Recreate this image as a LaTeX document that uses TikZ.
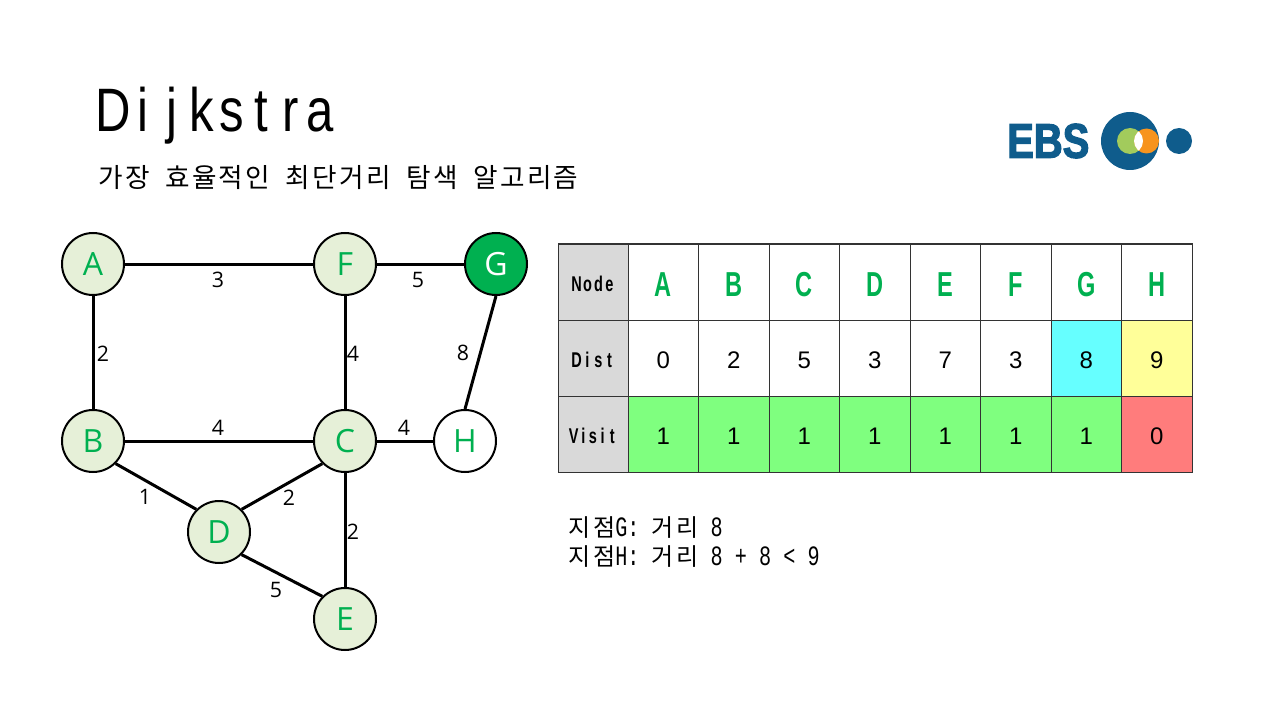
\documentclass[tikz,border=0pt]{standalone}
\usepackage{fontspec}
\setmainfont{Liberation Sans}
\newfontfamily\cjkfont[LetterSpace=8.5,WordSpace=1.9]{Noto Sans CJK KR}
\newfontfamily\notecjk[LetterSpace=12]{Noto Sans CJK KR}
\newfontfamily\titlefont[FakeStretch=0.8]{Liberation Sans}
\newfontfamily\headfont[FakeStretch=0.68]{Liberation Sans}
\newfontfamily\logofont[FakeStretch=0.82,FakeBold=2.5]{Liberation Sans}
\newfontfamily\notemono[FakeStretch=0.72]{Liberation Mono}
\newfontfamily\graphfont{Open Sans}
\newlength\gridpitch
\def\gridloop#1{\ifx#1\relax\else\makebox[\gridpitch][c]{#1}\expandafter\gridloop\fi}
\newcommand\gridtext[2]{\setlength\gridpitch{#1}\gridloop#2\relax}
\newcommand\latn[1]{{\fontsize{21}{21}\selectfont\notemono #1}}
\definecolor{ptgreen}{HTML}{00B050}
\definecolor{ptpale}{HTML}{E6F0D8}
\definecolor{ebsblue}{HTML}{0F5C8C}
\definecolor{ebsgreen}{HTML}{A2CB5C}
\definecolor{ebsorange}{HTML}{F7941E}
\definecolor{vgreen}{HTML}{7FFF7F}
\definecolor{vred}{HTML}{FF7C7C}
\definecolor{dcyan}{HTML}{66FFFF}
\definecolor{dyellow}{HTML}{FFFF99}
\tikzset{
  vert/.style={circle, draw=black, line width=1.5pt, fill=ptpale, text=ptgreen, minimum size=46.5pt, inner sep=0pt, font=\fontsize{24}{24}\selectfont\graphfont},
  edge/.style={line width=2.25pt},
  wt/.style={inner sep=0pt, font=\fontsize{16}{16}\selectfont\graphfont},
  cell/.style={draw=black!80, line width=0.75pt},
  rowhead/.style={yshift=-1.5pt, font=\fontsize{16}{16}\selectfont\bfseries\headfont},
  numcell/.style={yshift=-1.5pt, inner sep=0pt, font=\fontsize{18}{18}\selectfont},
  note/.style={anchor=west, inner sep=0pt, font=\fontsize{18}{18}\selectfont\notecjk}
}
\begin{document}
\begin{tikzpicture}[x=0.75pt, y=-0.75pt]
\useasboundingbox (0,0) rectangle (1280,720);
\def\cw{70.5}
% heading
\node[anchor=base west, inner sep=0pt, font=\fontsize{46}{46}\selectfont\titlefont] (title) at (98,132) {\gridtext{22.2pt}{Dijkstra}};
\node[anchor=west, inner sep=0pt, font=\fontsize{20}{20}\selectfont\cjkfont] (subtitle) at (98,178) {가장 효율적인 최단거리 탐색 알고리즘};
% logo
\node[anchor=west, inner sep=0pt, text=ebsblue, font=\fontsize{36.5}{36.5}\selectfont\bfseries\logofont] (ebs) at (1007,141) {EBS};
\fill[ebsblue] (1130,141) circle (29);
\fill[ebsblue] (1179,141) circle (13);
\fill[ebsgreen] (1130,141) circle (13);
\fill[ebsorange] (1146.5,141) circle (12.5);
\begin{scope}
\clip (1130,141) circle (13);
\fill[white] (1146.5,141) circle (12.5);
\end{scope}
% graph
\node[vert] (A) at (93,264) {A};
\node[vert] (F) at (345,264) {F};
\node[vert, fill=ptgreen, text=white] (G) at (496,264) {G};
\node[vert] (B) at (93,441) {B};
\node[vert] (C) at (345,441) {C};
\node[vert, fill=white] (H) at (465,441) {H};
\node[vert] (D) at (219,532) {D};
\node[vert] (E) at (345,619) {E};
\foreach \a/\b in {A/F, F/G, A/B, F/C, B/C, C/H, C/E}
  \draw[edge] (\a) -- (\b);
\draw[edge] (G.south) -- (H.north);
\draw[edge] (B.south east) -- (D.north west);
\draw[edge] (C.south west) -- (D.north east);
\draw[edge] (D.south east) -- (E.north west);
\node[wt] (w1) at (218,280) {3};
\node[wt] (w2) at (418,280) {5};
\node[wt] (w3) at (103,354) {2};
\node[wt] (w4) at (353,354) {4};
\node[wt] (w5) at (463,353) {8};
\node[wt] (w6) at (218,428) {4};
\node[wt] (w7) at (404,428) {4};
\node[wt] (w8) at (145,497) {1};
\node[wt] (w9) at (289,498) {2};
\node[wt] (w10) at (353,532) {2};
\node[wt] (w11) at (276,590) {5};
% table
\draw[cell, fill=black!15] (558,244) rectangle (628,320) node[midway, rowhead] (hnode) {\gridtext{8.25pt}{Node}};
\draw[cell, fill=black!15] (558,320) rectangle (628,396) node[midway, rowhead] (hdist) {\gridtext{8.25pt}{Dist}};
\draw[cell, fill=black!15] (558,396) rectangle (628,472) node[midway, rowhead] (hvisit) {\gridtext{7.2pt}{Visit}};
\foreach \n/\d/\v/\dc/\vc [count=\i from 0] in {A/0/1/white/vgreen, B/2/1/white/vgreen, C/5/1/white/vgreen, D/3/1/white/vgreen, E/7/1/white/vgreen, F/3/1/white/vgreen, G/8/1/dcyan/vgreen, H/9/0/dyellow/vred} {
  \draw[cell, fill=white] ({628+\i*\cw},244) rectangle ({628+(\i+1)*\cw},320) node[midway, yshift=-2pt, text=ptgreen, font=\fontsize{26}{26}\selectfont\bfseries\headfont] (n\n) {\n};
  \draw[cell, fill=\dc] ({628+\i*\cw},320) rectangle ({628+(\i+1)*\cw},396) node[midway, numcell] (d\n) {\d};
  \draw[cell, fill=\vc] ({628+\i*\cw},396) rectangle ({628+(\i+1)*\cw},472) node[midway, numcell] (v\n) {\v};
}
% note
\node[note] (noteg) at (568,528) {지점\latn{G: }거리\latn{ 8}};
\node[note] (noteh) at (568,557) {지점\latn{H: }거리\latn{ 8 + 8 < 9}};
\end{tikzpicture}
\end{document}
